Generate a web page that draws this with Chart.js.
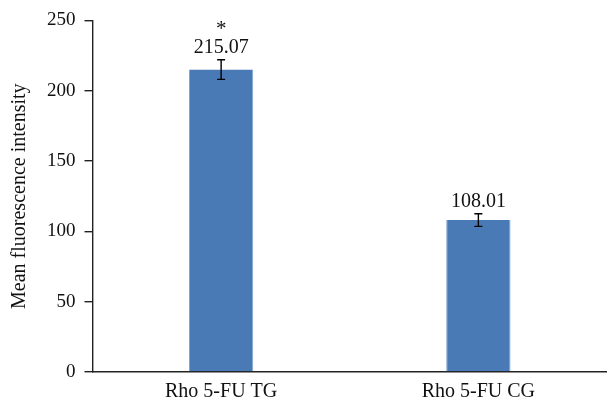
<!DOCTYPE html>
<html>
<head>
<meta charset="utf-8">
<script src="https://cdn.jsdelivr.net/npm/chart.js@4.4.0/dist/chart.umd.min.js"></script>
<style>
  html, body { margin: 0; padding: 0; background: #fff; }
  #wrap { width: 607px; height: 402px; }
</style>
</head>
<body>
<div id="wrap"><canvas id="chartCanvas" width="607" height="402"></canvas></div>
<script>
const categories = ["Rho 5-FU TG", "Rho 5-FU CG"];
const means = [215.07, 108.01];
const errors = [7, 4.5];
const marks = ["*", ""];
const yTicks = [0, 50, 100, 150, 200, 250];

const serif = "'Liberation Serif', 'DejaVu Serif', serif";

// error bars, value labels and significance marks
const annotate = {
    id: 'annotate',
    afterDatasetsDraw(chart) {
        const ctx = chart.ctx;
        const y = chart.scales.y;
        const meta = chart.getDatasetMeta(0);
        ctx.save();
        meta.data.forEach((bar, i) => {
            const top = y.getPixelForValue(means[i] + errors[i]);
            const bot = y.getPixelForValue(means[i] - errors[i]);
            ctx.strokeStyle = '#000';
            ctx.lineWidth = 1.4;
            ctx.beginPath();
            ctx.moveTo(bar.x, top); ctx.lineTo(bar.x, bot);
            ctx.moveTo(bar.x - 4, top); ctx.lineTo(bar.x + 4, top);
            ctx.moveTo(bar.x - 4, bot); ctx.lineTo(bar.x + 4, bot);
            ctx.stroke();

            ctx.fillStyle = '#111';
            ctx.textAlign = 'center';
            ctx.textBaseline = 'alphabetic';
            ctx.font = "20px " + serif;
            ctx.fillText(means[i].toFixed(2), bar.x, top - 7);
            if (marks[i]) {
                ctx.font = "21px " + serif;
                ctx.fillText(marks[i], bar.x, top - 25);
            }
        });
        ctx.restore();
    }
};

const ctx = document.getElementById("chartCanvas").getContext("2d");
new Chart(ctx, {
    type: 'bar',
    data: {
        labels: categories,
        datasets: [{
            data: means,
            backgroundColor: '#4a7ab5',
            borderColor: '#7ea4d3',
            borderWidth: { left: 1, right: 1, top: 0, bottom: 0 },
            barPercentage: 0.25,
            categoryPercentage: 1
        }]
    },
    options: {
        responsive: false,
        animation: false,
        layout: { padding: { top: 10, right: -3, left: 8, bottom: 0 } },
        plugins: { legend: { display: false }, tooltip: { enabled: false } },
        scales: {
            x: {
                grid: { display: false, drawTicks: false },
                border: { color: '#222', width: 1.4 },
                ticks: { color: '#111', font: { family: serif, size: 20 }, padding: 8 },
                afterFit: axis => { axis.height = 30; }
            },
            y: {
                min: 0,
                max: 250,
                afterBuildTicks: axis => { axis.ticks = yTicks.map(v => ({ value: v })); },
                grid: { display: true, drawOnChartArea: false, drawTicks: true, tickLength: 8, color: '#222', lineWidth: 1.4 },
                border: { color: '#222', width: 1.4 },
                ticks: { color: '#111', font: { family: serif, size: 19 }, padding: 9 },
                title: {
                    display: true,
                    text: 'Mean fluorescence intensity',
                    color: '#111',
                    font: { family: serif, size: 20 },
                    padding: { top: 0, bottom: 6 }
                }
            }
        }
    },
    plugins: [annotate]
});
</script>
</body>
</html>
